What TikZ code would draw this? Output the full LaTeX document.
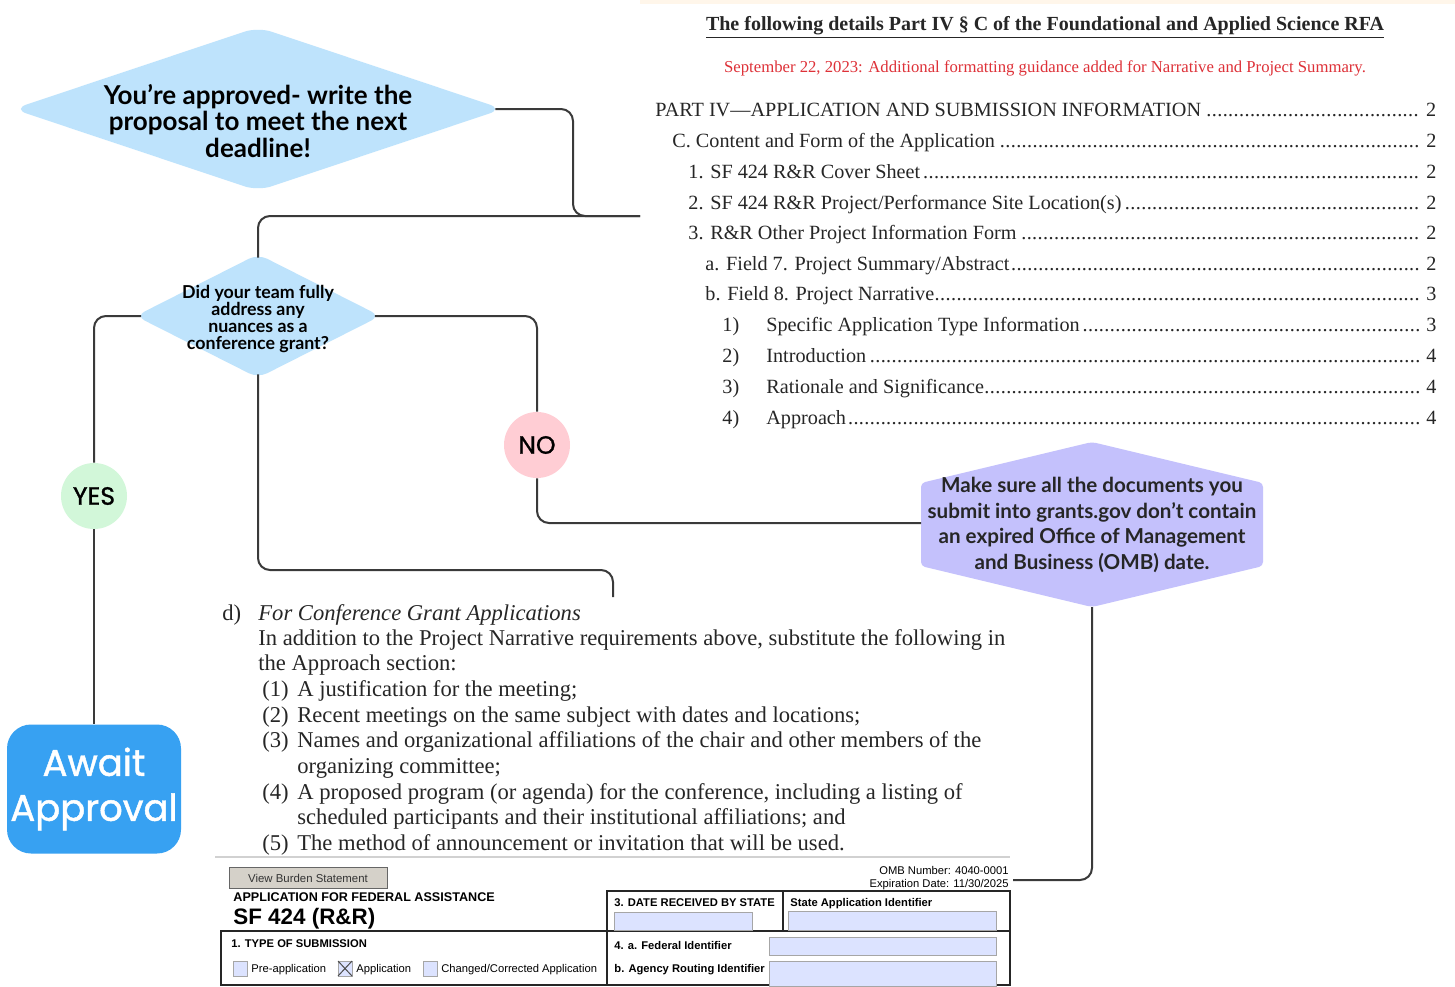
\documentclass[tikz,border=0pt]{standalone}
\usepackage{fontspec}
\setmainfont{Liberation Serif}
\newfontfamily\lato{Lato}
\newfontfamily\pop{Poppins}
\newfontfamily\popm[FakeBold=1.2]{Poppins}
\newfontfamily\arial{Liberation Sans}
\usetikzlibrary{shapes.geometric}
\definecolor{lineC}{HTML}{3A3A3A}
\definecolor{diaC}{HTML}{BEE3FC}
\definecolor{yesC}{HTML}{D2F7D9}
\definecolor{noC}{HTML}{FFCDD4}
\definecolor{awaitC}{HTML}{37A1F2}
\definecolor{hexC}{HTML}{C4C1FC}
\definecolor{tocC}{HTML}{262626}
\definecolor{redC}{HTML}{DE3138}
\definecolor{creamC}{HTML}{FFF6EA}
\definecolor{fieldC}{HTML}{DCE3FF}
\definecolor{btnC}{HTML}{D5D1C9}
\newcommand\leaderdots{\leaders\hbox to 0.27em{\hss.\hss}\hfill}
\newcommand\tocl[5]{\node[toc] (#1) at (#2,#3) {\hbox to \dimexpr(1436pt-#2pt)/2\relax{#4\leaderdots\,#5}};}
\begin{document}
\begin{tikzpicture}[x=0.5pt,y=-0.5pt,
  conn/.style={draw=lineC, line width=1pt, rounded corners=6pt},
  toc/.style={anchor=base west, inner sep=0, text=tocC, font=\fontsize{10.1}{12}\selectfont},
  body/.style={anchor=base west, inner sep=0, text=tocC, font=\fontsize{11.3}{13}\selectfont},
  dia/.style={diamond, fill=diaC, inner sep=0, rounded corners=7pt},
  circ/.style={circle, inner sep=0, minimum size=33pt, font=\popm\fontsize{12.5}{14}\selectfont, text=black},
  fb/.style={anchor=base west, inner sep=0, font=\arial\bfseries\fontsize{5.6}{6.5}\selectfont},
  fr/.style={anchor=base west, inner sep=0, font=\arial\fontsize{5.6}{6.5}\selectfont},
  field/.style={fill=fieldC, draw=gray!70, line width=0.4pt},
  box/.style={draw=black!85, line width=1pt}
]
\useasboundingbox (0,0) rectangle (1455,986);
\fill[white] (0,0) rectangle (1455,986);
\fill[creamC] (640,0) rectangle (1455,4);

% ---------- TOC (top right) ----------
\node[anchor=base, inner sep=0, text=tocC, font=\bfseries\fontsize{10}{12}\selectfont] (title) at (1045,30)
  {\underline{The following details Part IV \S\ C of the Foundational and Applied Science RFA}};
\node[anchor=base, inner sep=0, text=redC, font=\fontsize{8.35}{10}\selectfont] (update) at (1045,72)
  {September 22, 2023: Additional formatting guidance added for Narrative and Project Summary.};
\tocl{t1}{655}{116}{PART IV---APPLICATION AND SUBMISSION INFORMATION}{2}
\tocl{t2}{672}{147}{C. Content and Form of the Application}{2}
\tocl{t3}{688}{178}{1. SF 424 R\&R Cover Sheet}{2}
\tocl{t4}{688}{209}{2. SF 424 R\&R Project/Performance Site Location(s)}{2}
\tocl{t5}{688}{239}{3. R\&R Other Project Information Form}{2}
\tocl{t6}{705}{270}{a. Field 7. Project Summary/Abstract}{2}
\tocl{t7}{705}{300}{b. Field 8. Project Narrative}{3}
\tocl{t8}{722}{331}{\makebox[22pt][l]{1)}Specific Application Type Information}{3}
\tocl{t9}{722}{362}{\makebox[22pt][l]{2)}Introduction}{4}
\tocl{t10}{722}{393}{\makebox[22pt][l]{3)}Rationale and Significance}{4}
\tocl{t11}{722}{424}{\makebox[22pt][l]{4)}Approach}{4}

% ---------- conference text block ----------
\node[body] (dlab) at (222,620) {d)};
\node[body] (dtitle) at (258,620) {\itshape For Conference Grant Applications};
\node[body] (dl1) at (258,645) {In addition to the Project Narrative requirements above, substitute the following in};
\node[body] (dl2) at (258,670) {the Approach section:};
\node[body] (dl3) at (262,696) {\makebox[17.5pt][l]{(1)}A justification for the meeting;};
\node[body] (dl4) at (262,722) {\makebox[17.5pt][l]{(2)}Recent meetings on the same subject with dates and locations;};
\node[body] (dl5) at (262,747) {\makebox[17.5pt][l]{(3)}Names and organizational affiliations of the chair and other members of the};
\node[body] (dl6) at (297,773) {organizing committee;};
\node[body] (dl7) at (262,799) {\makebox[17.5pt][l]{(4)}A proposed program (or agenda) for the conference, including a listing of};
\node[body] (dl8) at (297,824) {scheduled participants and their institutional affiliations; and};
\node[body] (dl9) at (262,850) {\makebox[17.5pt][l]{(5)}The method of announcement or invitation that will be used.};
\draw[black!18, line width=0.6pt] (215,857) -- (1010,857);

% ---------- SF 424 form ----------
\draw[fill=btnC, draw=gray!80!black, line width=0.5pt] (229,867) rectangle (387,888);
\node[inner sep=0, font=\arial\fontsize{5.7}{6.5}\selectfont, text=black!80] (btn) at (308,878) {View Burden Statement};
\node[anchor=base east, inner sep=0, font=\arial\fontsize{5.6}{6.5}\selectfont] (omb1) at (1009,874) {OMB Number: 4040-0001};
\node[anchor=base east, inner sep=0, font=\arial\fontsize{5.6}{6.5}\selectfont] (omb2) at (1009,887) {Expiration Date: 11/30/2025};
\node[fb, font=\arial\bfseries\fontsize{6.3}{7}\selectfont] (afa) at (233,901) {APPLICATION FOR FEDERAL ASSISTANCE};
\node[fb, font=\arial\bfseries\fontsize{11.2}{12}\selectfont] (sf) at (233,924) {SF 424 (R\&R)};
\draw[box] (607,891) rectangle (1010,931);
\draw[box] (783,891) -- (783,931);
\draw[box] (221,986) -- (221,931) -- (1010,931) -- (1010,986);
\draw[box] (607,931) -- (607,986);
\draw[box] (221,985) -- (1010,985);
\node[fb] (f3) at (614,906) {3. DATE RECEIVED BY STATE};
\node[fb] (fs) at (790,906) {State Application Identifier};
\draw[field] (614,912) rectangle (752,930);
\draw[field] (788,911) rectangle (996,930);
\node[fb] (f1) at (231,947) {1. TYPE OF SUBMISSION};
\draw[field] (233,961) rectangle (247,976);
\draw[field] (338,961) rectangle (352,976);
\draw[black!70, line width=0.5pt] (338,961) -- (352,976) (352,961) -- (338,976);
\draw[field] (423,961) rectangle (437,976);
\node[fr] (c1) at (251,972) {Pre-application};
\node[fr] (c2) at (356,972) {Application};
\node[fr] (c3) at (441,972) {Changed/Corrected Application};
\node[fb] (f4) at (614,949) {4. a. Federal Identifier};
\draw[field] (769,937) rectangle (996,955);
\node[fb] (f4b) at (614,972) {b. Agency Routing Identifier};
\draw[field] (769,961) rectangle (996,986);

% ---------- flowchart shapes ----------
\node[dia, minimum width=245pt, minimum height=82pt] (d1) at (258,109) {};
\node[align=center, inner sep=0, font=\lato\bfseries\fontsize{13}{13.3}\selectfont] (d1t) at (258,121)
  {You’re approved- write the\\proposal to meet the next\\deadline!};
\node[dia, minimum width=122.5pt, minimum height=62pt, rounded corners=5pt] (d2) at (258,316) {};
\node[align=center, inner sep=0, font=\lato\bfseries\fontsize{8.9}{8.4}\selectfont] (d2t) at (258,319)
  {Did your team fully\\address any\\nuances as a\\conference grant?};
\node[circ, fill=yesC] (yes) at (94,496) {YES};
\node[circ, fill=noC] (no) at (537,445) {NO};
\node[rectangle, rounded corners=12pt, fill=awaitC, minimum width=87pt, minimum height=64.5pt, inner sep=1pt,
  align=center, text=white, font=\popm\fontsize{18.5}{22.5}\selectfont] (await) at (94,789) {Await\\Approval};
\fill[hexC, rounded corners=2pt] (1092,442) -- (1263,483) -- (1263,566) -- (1092,607) -- (921,566) -- (921,483) -- cycle;
\coordinate (hexW) at (921,523);
\coordinate (hexS) at (1092,607);
\node[align=center, inner sep=0, font=\lato\bfseries\fontsize{10.3}{12.85}\selectfont, text=black!85] (hex) at (1092,525)
  {Make sure all the documents you\\submit into grants.gov don’t contain\\an expired Office of Management\\and Business (OMB) date.};

% ---------- connectors ----------
\coordinate (tocL) at (640,216);
\coordinate (dtop) at (613,597);
\coordinate (formR) at (1013,880);
\draw[conn] ([xshift=-4pt]d1.east) -- (573,109) -- (573,216) -- (tocL);
\draw[conn] (tocL) -- (258,216) -- ([yshift=-2pt]d2.north);
\draw[conn] ([xshift=3pt]d2.west) -- (94,316) -- (yes.north);
\draw[conn] (yes.south) -- (await.north);
\draw[conn] ([xshift=-3pt]d2.east) -- (537,316) -- (no.north);
\draw[conn] (no.south) -- (537,523) -- (hexW);
\draw[conn] ([yshift=2pt]d2.south) -- (258,570) -- (613,570) -- (dtop);
\draw[conn] (hexS) -- (1092,880) -- (formR);
\end{tikzpicture}
\end{document}
